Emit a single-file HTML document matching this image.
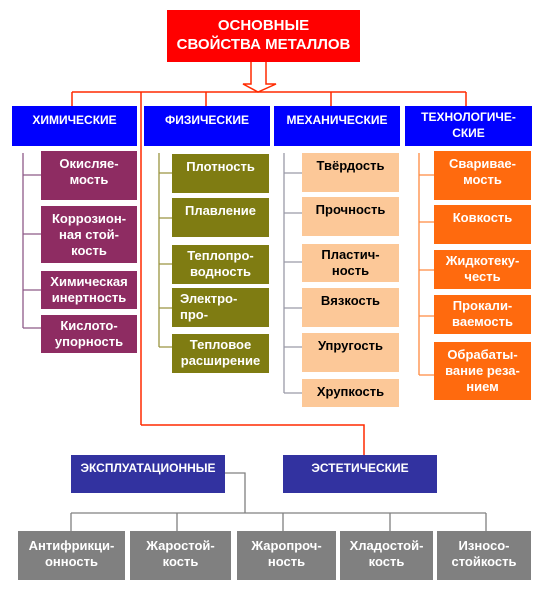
<!DOCTYPE html>
<html><head><meta charset="utf-8"><style>
body{margin:0;width:552px;height:592px;background:#fff;position:relative;overflow:hidden;font-family:"Liberation Sans","DejaVu Sans",sans-serif;font-weight:bold}
.b{position:absolute;box-sizing:border-box;text-align:center;font-size:13px;line-height:16px;padding-top:5px;color:#fff;white-space:nowrap}
.l{position:absolute}
.c{background:#0000ff;font-size:12px;padding-top:6px}
.p{background:#8e2c62}
.o{background:#7f7c12}
.k{background:#fcc898;color:#000}
.t{background:#ff6a0e}
.g{background:#808080;padding-top:7px}
.d{background:#3232a0;font-size:12px;padding-top:5px}
</style></head><body>
<div class="b" style="left:167px;top:10px;width:193px;height:52px;background:#ff0000;font-size:15px;line-height:19px;padding-top:6px">ОСНОВНЫЕ<br>СВОЙСТВА МЕТАЛЛОВ</div>
<svg class="l" style="left:0;top:0" width="552" height="592">
<g fill="none" stroke="#ff2a00" stroke-width="1.5">
<path d="M251 62V84H243L258 92L276 84H266V62"/>
<path d="M72 92H466M72 92V106M141 92V425M206 92V106M331 92V106M466 92V106"/>
<path d="M141 425H364V455"/>
</g>
<g fill="none" stroke-width="1.3">
<path stroke="#8e5a88" d="M23 153V328M23 175H41M23 234H41M23 290H41M23 328H41"/>
<path stroke="#9a9440" d="M159 153V347M159 173H172M159 218H172M159 264H172M159 308H172M159 347H172"/>
<path stroke="#9a9aa8" d="M284 153V393M284 173H302M284 213H302M284 262H302M284 308H302M284 347H302M284 393H302"/>
<path stroke="#ff8a40" d="M419 153V375M419 175H434M419 222H434M419 270H434M419 316H434M419 375H434"/>
<path stroke="#808080" d="M225 473H245V513M71 513H486M71 513V531M177 513V531M283 513V531M390 513V531M486 513V531"/>
</g></svg>
<div class="b c" style="left:12px;top:106px;width:125px;height:40px">ХИМИЧЕСКИЕ</div>
<div class="b c" style="left:144px;top:106px;width:126px;height:40px">ФИЗИЧЕСКИЕ</div>
<div class="b c" style="left:274px;top:106px;width:126px;height:40px">МЕХАНИЧЕСКИЕ</div>
<div class="b c" style="left:405px;top:106px;width:127px;height:40px;padding-top:3px">ТЕХНОЛОГИЧЕ-<br>СКИЕ</div>

<div class="b p" style="left:41px;top:151px;width:96px;height:49px">Окисляе-<br>мость</div>
<div class="b p" style="left:41px;top:206px;width:96px;height:57px">Коррозион-<br>ная стой-<br>кость</div>
<div class="b p" style="left:41px;top:271px;width:96px;height:38px;padding-top:3px">Химическая<br>инертность</div>
<div class="b p" style="left:41px;top:315px;width:96px;height:38px;padding-top:3px">Кислото-<br>упорность</div>

<div class="b o" style="left:172px;top:154px;width:97px;height:39px">Плотность</div>
<div class="b o" style="left:172px;top:198px;width:97px;height:39px">Плавление</div>
<div class="b o" style="left:172px;top:245px;width:97px;height:39px;padding-top:3px">Теплопро-<br>водность</div>
<div class="b o" style="left:172px;top:288px;width:97px;height:39px;padding-top:3px;text-align:left;padding-left:8px">Электро-<br>про-</div>
<div class="b o" style="left:172px;top:334px;width:97px;height:39px;padding-top:3px">Тепловое<br>расширение</div>

<div class="b k" style="left:302px;top:153px;width:97px;height:39px">Твёрдость</div>
<div class="b k" style="left:302px;top:197px;width:97px;height:39px">Прочность</div>
<div class="b k" style="left:302px;top:244px;width:97px;height:38px;padding-top:3px">Пластич-<br>ность</div>
<div class="b k" style="left:302px;top:288px;width:97px;height:39px">Вязкость</div>
<div class="b k" style="left:302px;top:333px;width:97px;height:39px">Упругость</div>
<div class="b k" style="left:302px;top:379px;width:97px;height:28px">Хрупкость</div>

<div class="b t" style="left:434px;top:151px;width:97px;height:49px">Сваривае-<br>мость</div>
<div class="b t" style="left:434px;top:205px;width:97px;height:39px">Ковкость</div>
<div class="b t" style="left:434px;top:250px;width:97px;height:39px;padding-top:3px">Жидкотеку-<br>честь</div>
<div class="b t" style="left:434px;top:295px;width:97px;height:39px;padding-top:3px">Прокали-<br>ваемость</div>
<div class="b t" style="left:434px;top:342px;width:97px;height:58px">Обрабаты-<br>вание реза-<br>нием</div>

<div class="b d" style="left:71px;top:455px;width:154px;height:38px">ЭКСПЛУАТАЦИОННЫЕ</div>
<div class="b d" style="left:283px;top:455px;width:154px;height:38px">ЭСТЕТИЧЕСКИЕ</div>

<div class="b g" style="left:18px;top:531px;width:107px;height:49px">Антифрикци-<br>онность</div>
<div class="b g" style="left:130px;top:531px;width:101px;height:49px">Жаростой-<br>кость</div>
<div class="b g" style="left:237px;top:531px;width:99px;height:49px">Жаропроч-<br>ность</div>
<div class="b g" style="left:340px;top:531px;width:93px;height:49px">Хладостой-<br>кость</div>
<div class="b g" style="left:437px;top:531px;width:94px;height:49px">Износо-<br>стойкость</div>
</body></html>
